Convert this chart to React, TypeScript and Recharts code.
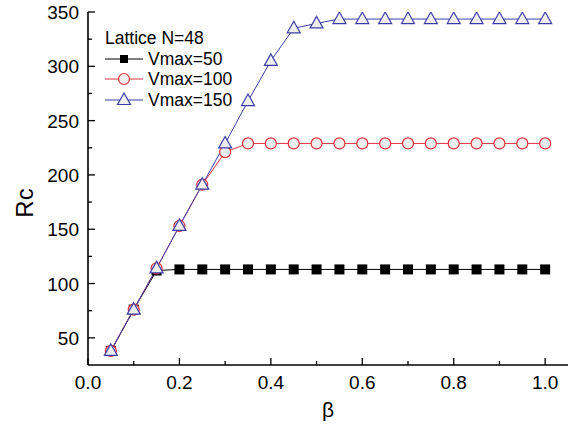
import React from "react";
import { Legend, Line, LineChart, XAxis, YAxis } from "recharts";

// beta values (x) and Rc for each Vmax
const beta = [
  0.05, 0.1, 0.15, 0.2, 0.25, 0.3, 0.35, 0.4, 0.45, 0.5,
  0.55, 0.6, 0.65, 0.7, 0.75, 0.8, 0.85, 0.9, 0.95, 1.0
];
const vmax50 = [38, 76, 112, 113, 113, 113, 113, 113, 113, 113, 113, 113, 113, 113, 113, 113, 113, 113, 113, 113];
const vmax100 = [38, 76, 114, 153, 191, 221, 229, 229, 229, 229, 229, 229, 229, 229, 229, 229, 229, 229, 229, 229];
const vmax150 = [38, 76, 114, 153, 191, 229, 268, 305, 335, 339.5, 343.5, 343.5, 343.5, 343.5, 343.5, 343.5, 343.5, 343.5, 343.5, 343.5];

const xTicks = [0, 0.1, 0.2, 0.3, 0.4, 0.5, 0.6, 0.7, 0.8, 0.9, 1.0];
const xMajor = [0, 0.2, 0.4, 0.6, 0.8, 1.0];
const yTicks = [50, 75, 100, 125, 150, 175, 200, 225, 250, 275, 300, 325, 350];
const yMajor = [50, 100, 150, 200, 250, 300, 350];

const legendTitle = "Lattice N=48";

const FONT = "'Liberation Sans', Arial, sans-serif";
const RED = "#e0303a";
const BLUE = "#3c3ca6";
const FILL = "#eeeeee";

const data = beta.map((b, i) => ({
  beta: b,
  v50: vmax50[i],
  v100: vmax100[i],
  v150: vmax150[i]
}));

const isMajor = (list: number[], v: number) => list.some((m) => Math.abs(m - v) < 1e-6);

const Square = ({ cx, cy, size = 10 }: any) => (
  <rect x={cx - size / 2} y={cy - size / 2} width={size} height={size} fill="#000" />
);
const Circle = ({ cx, cy }: any) => (
  <circle cx={cx} cy={cy} r={5.5} fill={FILL} stroke={RED} strokeWidth={1.2} />
);
const Triangle = ({ cx, cy }: any) => (
  <polygon
    points={`${cx},${cy - 7} ${cx - 6.5},${cy + 4.5} ${cx + 6.5},${cy + 4.5}`}
    fill={FILL}
    stroke={BLUE}
    strokeWidth={1.2}
  />
);

const series = [
  { key: "v50", name: "Vmax=50", color: "#000", Marker: Square },
  { key: "v100", name: "Vmax=100", color: RED, Marker: Circle },
  { key: "v150", name: "Vmax=150", color: BLUE, Marker: Triangle }
];

const BottomTick = ({ x, y, payload }: any) => {
  const major = isMajor(xMajor, payload.value);
  return (
    <g>
      <line x1={x} x2={x} y1={y} y2={y - (major ? 7 : 4)} stroke="#000" strokeWidth={1.3} />
      {major && (
        <text x={x} y={y + 24} textAnchor="middle" fontSize={19} fontFamily={FONT} fill="#000">
          {payload.value.toFixed(1)}
        </text>
      )}
    </g>
  );
};

const TopTick = ({ x, y, payload }: any) => {
  const major = isMajor(xMajor, payload.value);
  return <line x1={x} x2={x} y1={y} y2={y + (major ? 7 : 4)} stroke="#000" strokeWidth={1.3} />;
};

const LeftTick = ({ x, y, payload }: any) => {
  const major = isMajor(yMajor, payload.value);
  return (
    <g>
      <line x1={x} x2={x + (major ? 7 : 4)} y1={y} y2={y} stroke="#000" strokeWidth={1.3} />
      {major && (
        <text x={x - 9} y={y + 7} textAnchor="end" fontSize={19} fontFamily={FONT} fill="#000">
          {payload.value}
        </text>
      )}
    </g>
  );
};

const RightTick = ({ x, y, payload }: any) => {
  const major = isMajor(yMajor, payload.value);
  return <line x1={x} x2={x - (major ? 7 : 4)} y1={y} y2={y} stroke="#000" strokeWidth={1.3} />;
};

const LegendBox = () => (
  <div style={{ fontFamily: FONT, fontSize: 17.5, color: "#000" }}>
    <div style={{ height: 22, lineHeight: "22px", whiteSpace: "nowrap" }}>{legendTitle}</div>
    {series.map((s) => (
      <div key={s.key} style={{ display: "flex", alignItems: "center", height: 20.5, whiteSpace: "nowrap" }}>
        <svg width={43} height={20} style={{ display: "block" }}>
          <line x1={0} x2={38} y1={10} y2={10} stroke={s.color} strokeWidth={1.2} />
          <s.Marker cx={19} cy={10} size={8} />
        </svg>
        <span style={{ lineHeight: "20px" }}>{s.name}</span>
      </div>
    ))}
  </div>
);

const App: React.FC = () => {
  return (
    <div style={{ position: "absolute", left: 0, top: 0, width: 583, height: 427, background: "#fff" }}>
      <LineChart width={583} height={427} data={data} margin={{ top: 12, right: 15, bottom: 22, left: 0 }}>
        <XAxis
          xAxisId="b"
          dataKey="beta"
          type="number"
          domain={[0, 1.05]}
          ticks={xTicks}
          allowDataOverflow
          height={40}
          tickSize={0}
          tickMargin={0}
          tickLine={false}
          axisLine={{ stroke: "#000", strokeWidth: 1.6 }}
          tick={<BottomTick />}
          interval={0}
          label={{
            content: () => (
              <text x={328} y={417} textAnchor="middle" fontSize={21} fontFamily={FONT} fill="#000">
                β
              </text>
            )
          }}
        />
        <XAxis
          xAxisId="t"
          orientation="top"
          dataKey="beta"
          type="number"
          domain={[0, 1.05]}
          ticks={xTicks}
          allowDataOverflow
          height={0}
          tickSize={0}
          tickMargin={0}
          tickLine={false}
          axisLine={{ stroke: "#000", strokeWidth: 1.6 }}
          tick={<TopTick />}
          interval={0}
        />
        <YAxis
          yAxisId="l"
          type="number"
          domain={[25, 350]}
          ticks={yTicks}
          allowDataOverflow
          width={88}
          tickSize={0}
          tickMargin={0}
          tickLine={false}
          axisLine={{ stroke: "#000", strokeWidth: 1.6 }}
          tick={<LeftTick />}
          interval={0}
          label={{
            content: () => (
              <text
                x={24}
                y={203}
                transform="rotate(-90 24 203)"
                textAnchor="middle"
                dominantBaseline="central"
                fontSize={24}
                fontFamily={FONT}
                fill="#000"
              >
                Rc
              </text>
            )
          }}
        />
        <YAxis
          yAxisId="r"
          orientation="right"
          type="number"
          domain={[25, 350]}
          ticks={yTicks}
          allowDataOverflow
          width={0}
          tickSize={0}
          tickMargin={0}
          tickLine={false}
          axisLine={{ stroke: "#000", strokeWidth: 1.6 }}
          tick={<RightTick />}
          interval={0}
        />
        <Legend
          layout="vertical"
          align="center"
          verticalAlign="middle"
          content={<LegendBox />}
          wrapperStyle={{ position: "absolute", left: 105, top: 26.5, width: "auto", height: "auto" }}
        />
        {series.map((s) => (
          <Line
            key={s.key}
            xAxisId="b"
            yAxisId="l"
            dataKey={s.key}
            name={s.name}
            type="linear"
            stroke={s.color}
            strokeWidth={1}
            isAnimationActive={false}
            dot={(p: any) => <s.Marker key={`${s.key}-${p.index}`} cx={p.cx} cy={p.cy} />}
            activeDot={false}
          />
        ))}
      </LineChart>
    </div>
  );
};

export default App;
